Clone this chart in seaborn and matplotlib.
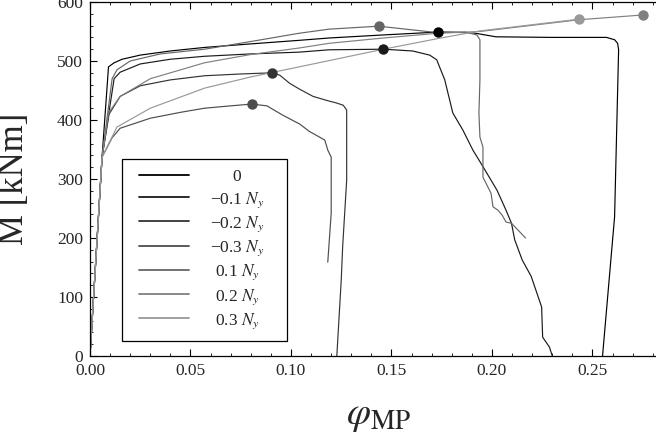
"""
Courbes moment - rotation plastique (M - phi_MP) pour differents efforts normaux.
"""
import numpy as np
import pandas as pd
import matplotlib
matplotlib.use("Agg")
import matplotlib.pyplot as plt
import seaborn as sns
from matplotlib.ticker import MultipleLocator

# --- donnees ---
labels = ["0", "\u22120.1 $N_y$", "\u22120.2 $N_y$", "\u22120.3 $N_y$",
          "0.1 $N_y$", "0.2 $N_y$", "0.3 $N_y$"]
colors = ["#000000", "#1a1a1a", "#333333", "#4d4d4d", "#666666", "#808080", "#999999"]

phi_0 = [0, 0.0060, 0.0092, 0.0120, 0.0160, 0.0250, 0.0400, 0.0570, 0.0800, 0.1040,
         0.1190, 0.1450, 0.1730, 0.1900, 0.2020, 0.2300, 0.2570, 0.2610, 0.2625,
         0.2630, 0.2620, 0.2610, 0.2550]
m_0 = [0, 337, 490, 497, 503, 510, 517, 523, 529, 535, 539, 544, 549, 548, 541, 540,
       540, 536, 530, 519, 378, 236, 0]

phi_m01 = [0, 0.006, 0.0120, 0.0150, 0.025, 0.040, 0.057, 0.080, 0.104, 0.119, 0.146,
           0.1605, 0.169, 0.1725, 0.1765, 0.1805, 0.1855, 0.1905, 0.1955, 0.2025, 0.207,
           0.2097, 0.2113, 0.215, 0.2195, 0.2247, 0.2252, 0.2286, 0.2300]
m_m01 = [0, 337, 470, 481, 495, 503, 508, 512, 515, 519, 520, 517, 510, 502, 468, 412,
         383, 349, 321, 281, 247, 225, 197, 163, 135, 83, 32, 15, 0]

phi_m02 = [0, 0.006, 0.0095, 0.015, 0.025, 0.040, 0.057, 0.075, 0.0905, 0.0944, 0.0994,
           0.1044, 0.111, 0.119, 0.1225, 0.126, 0.1277, 0.1277, 0.1257, 0.1250, 0.1228]
m_m02 = [0, 337, 410, 440, 458, 468, 475, 478, 480, 476, 462, 452, 440, 432, 429, 425,
         417, 298, 185, 129, 0]

phi_m03 = [0, 0.006, 0.011, 0.015, 0.030, 0.045, 0.057, 0.070, 0.0805, 0.088, 0.096,
           0.1044, 0.109, 0.1168, 0.1183, 0.120, 0.1200, 0.1183]
m_m03 = [0, 337, 370, 386, 403, 413, 420, 424, 427, 424, 408, 393, 381, 366, 349, 337,
         242, 159]

phi_p01 = [0, 0.006, 0.0110, 0.0134, 0.020, 0.035, 0.057, 0.080, 0.104, 0.119, 0.1436,
           0.1705, 0.187, 0.1925, 0.194, 0.1940, 0.1935, 0.194, 0.1955, 0.1955, 0.197,
           0.1995, 0.2005, 0.203, 0.205, 0.207, 0.2097, 0.2167]
m_p01 = [0, 337, 470, 485, 500, 512, 520, 533, 547, 554, 559, 549, 549, 544, 536, 468,
         412, 371, 354, 303, 293, 276, 253, 247, 239, 227, 225, 200]

phi_p02 = [0, 0.006, 0.0092, 0.015, 0.030, 0.057, 0.080, 0.104, 0.119, 0.146, 0.173,
           0.194, 0.2435, 0.275]
m_p02 = [0, 337, 412, 440, 470, 497, 511, 522, 530, 539, 547, 550, 570, 578]

phi_p03 = [0, 0.006, 0.0134, 0.030, 0.057, 0.080, 0.104, 0.146, 0.173, 0.194, 0.2435]
m_p03 = [0, 337, 388, 420, 454, 473, 490, 520, 538, 551, 571]

curves = [(phi_0, m_0), (phi_m01, m_m01), (phi_m02, m_m02), (phi_m03, m_m03),
          (phi_p01, m_p01), (phi_p02, m_p02), (phi_p03, m_p03)]

# --- style ---
sns.set_style("ticks")
plt.rcParams["font.family"] = ["Liberation Serif", "DejaVu Serif"]
plt.rcParams["mathtext.fontset"] = "stix"
plt.rcParams["axes.unicode_minus"] = True

fig = plt.figure(figsize=(6.56, 4.41), dpi=100)
ax = fig.add_axes([90 / 656, 85 / 441, 566 / 656, 354 / 441])

for (phi, m), lab, col in zip(curves, labels, colors):
    df = pd.DataFrame({"phi": phi, "M": m})
    sns.lineplot(data=df, x="phi", y="M", sort=False, estimator=None, color=col,
                 lw=0.85, label=lab, ax=ax)

# points au maximum de chaque courbe
for (phi, m), col in zip(curves, colors):
    i = int(np.argmax(m))
    ax.plot(phi[i], m[i], "o", color=col, ms=7.5, mec="none", zorder=5)

ax.set_xlim(0, 0.2816)
ax.set_ylim(0, 600)
ax.xaxis.set_major_locator(MultipleLocator(0.05))
ax.xaxis.set_minor_locator(MultipleLocator(0.01))
ax.yaxis.set_major_locator(MultipleLocator(100))
ax.yaxis.set_minor_locator(MultipleLocator(20))
ax.xaxis.set_major_formatter(plt.FuncFormatter(lambda v, p: f"{v:.2f}"))
ax.tick_params(which="both", direction="in", top=True, right=False, color="black",
               labelsize=12.5, pad=5)
ax.tick_params(which="major", length=5, width=0.8)
ax.tick_params(which="minor", length=2.5, width=0.6)
for s in ["left", "bottom", "top"]:
    ax.spines[s].set_color("black")
    ax.spines[s].set_linewidth(0.9)
ax.spines["right"].set_visible(False)

ax.set_xlabel(r"$\varphi_{\mathrm{MP}}$", fontsize=28)
ax.set_ylabel("M [kNm]", fontsize=25)
ax.xaxis.set_label_coords(0.51, -0.115)
ax.yaxis.set_label_coords(-0.105, 0.5)

# legende : boite de 122 a 287 px en largeur
leg_x0 = (122 - 90) / 566
leg_w = (287 - 122) / 566
leg = ax.legend(loc="upper left", bbox_to_anchor=(leg_x0, 0.5565, leg_w, 0.0),
                mode="expand", borderaxespad=0,
                fontsize=12.5, handlelength=2.9, handletextpad=1.1, labelspacing=0.27,
                borderpad=0.58, fancybox=False, framealpha=1, edgecolor="black")
leg.get_frame().set_linewidth(0.9)
for ln in leg.get_lines():
    ln.set_linewidth(1.3)
    ln.set_xdata(np.asarray(ln.get_xdata()) + 5)  # decaler les traits vers la droite

# centrer les libelles autour de x = 237 px
fig.canvas.draw()
renderer = fig.canvas.get_renderer()
target = ax.transAxes.transform(((237 - 90) / 566, 0))[0]
for t in leg.get_texts():
    bb = t.get_window_extent(renderer)
    t.set_position((target - (bb.x0 + bb.x1) / 2, 0))

fig.savefig("out.png", dpi=100)
